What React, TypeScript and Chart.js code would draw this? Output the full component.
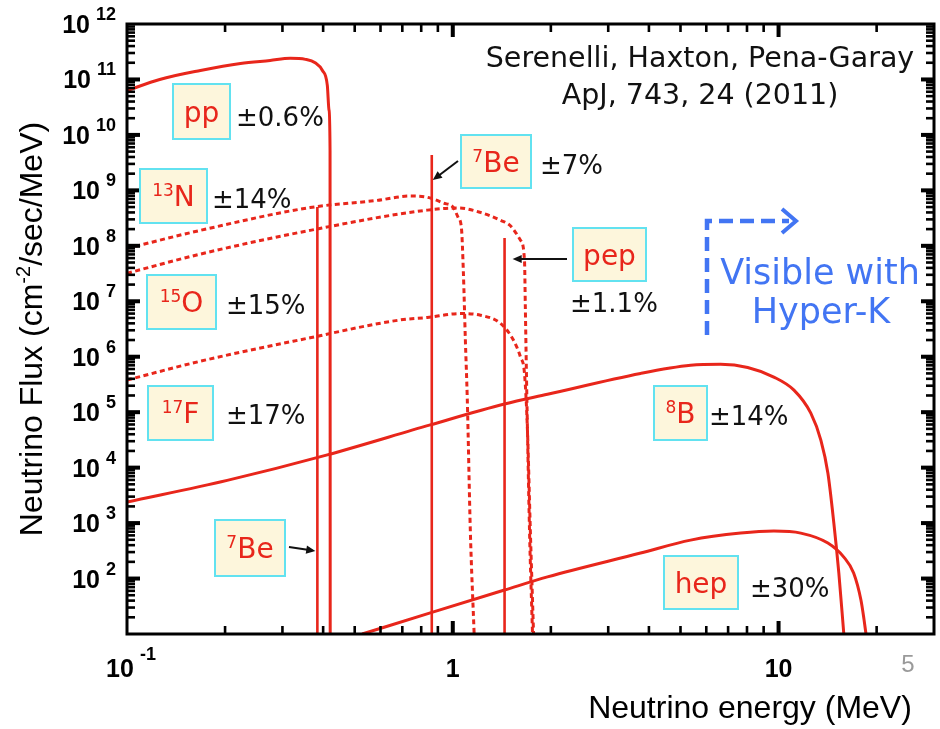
import { useEffect, useRef } from "react";
import { Chart, registerables } from "chart.js";

Chart.register(...registerables);

const RED = "#e8261b";
const BLUE = "#4275f3";
const ARIAL = '"Liberation Sans", Arial, Helvetica, sans-serif';
const DEJAVU = '"DejaVu Sans", "Liberation Sans", sans-serif';

// Continuum spectra: energy (MeV) and flux (cm^-2 s^-1 MeV^-1)
const ppEnergy = [0.1, 0.126, 0.168, 0.223, 0.275, 0.317, 0.353, 0.378, 0.398, 0.412, 0.417, 0.42, 0.4205];
const ppFlux = [6.3e10, 1.0e11, 1.45e11, 1.94e11, 2.2e11, 2.4e11, 2.3e11, 2.0e11, 1.45e11, 7.8e10, 2.8e10, 5.3e9, 10];

const n13Energy = [0.1, 0.168, 0.365, 0.586, 0.74, 0.835, 0.936, 1.004, 1.04, 1.063, 1.078, 1.093, 1.108, 1.132, 1.163];
const n13Flux = [9.0e7, 1.9e8, 4.9e8, 6.6e8, 7.9e8, 7.5e8, 5.9e8, 4.9e8, 3.2e8, 2.1e8, 3.2e7, 2.0e6, 1.7e5, 7.4e2, 10];

const o15Energy = [0.1, 0.168, 0.365, 0.835, 1.04, 1.216, 1.4, 1.503, 1.614, 1.66, 1.67, 1.683, 1.72, 1.757];
const o15Flux = [3.2e7, 7.1e7, 1.9e8, 4.4e8, 4.8e8, 4.0e8, 2.9e8, 2.3e8, 1.26e8, 5.5e7, 7.8e6, 5.0e5, 7.4e2, 10];

const f17Energy = [0.1, 0.168, 0.365, 0.689, 0.835, 1.053, 1.216, 1.4, 1.535, 1.614, 1.66, 1.695, 1.73, 1.77];
const f17Flux = [3.8e5, 8.3e5, 2.2e6, 4.6e6, 5.1e6, 6.0e6, 5.6e6, 4.0e6, 2.0e6, 9.8e5, 5.0e5, 4.8e4, 7.4e2, 10];

const b8Energy = [0.1, 0.203, 0.412, 0.853, 1.441, 1.953, 3.77, 5.37, 6.64, 8.04, 9.67, 11.15, 12.56, 13.49, 14.17, 14.78, 15.31, 15.86];
const b8Flux = [2.4e3, 5.9e3, 1.7e4, 5.9e4, 1.4e5, 2.1e5, 5.0e5, 7.0e5, 7.3e5, 6.4e5, 4.3e5, 2.5e5, 9.6e4, 3.1e4, 8.0e3, 1.0e3, 1.26e2, 10];

const hepEnergy = [0.527, 0.853, 1.441, 1.953, 3.77, 5.37, 7.65, 9.67, 11.7, 14.17, 15.86, 17.0, 17.9, 18.3, 18.55];
const hepFlux = [10, 24, 62, 107, 288, 493, 660, 718, 660, 437, 244, 126, 41, 18, 10];

// Monochromatic lines: energy (MeV) and flux (cm^-2 s^-1)
const lineNames = ["7Be 384 keV", "7Be 862 keV", "pep"];
const lineEnergy = [0.384, 0.862, 1.442];
const lineFlux = [5.0e8, 4.35e9, 1.38e8];

// Axis ranges and labelled ticks
const xMin = 0.1;
const xMax = 30;
const yMin = 10;
const yMax = 1e12;
const xLabelTicks = [0.1, 1, 10];
const yLabelExponents = [2, 3, 4, 5, 6, 7, 8, 9, 10, 11, 12];

// Source labels in cream boxes and their uncertainties
const boxSup = ["", "13", "15", "17", "7", "7", "", "8", ""];
const boxMain = ["pp", "N", "O", "F", "Be", "Be", "pep", "B", "hep"];
const boxRects = [
  [173, 84, 57, 55],
  [140, 169, 67, 54],
  [147, 275, 69, 54],
  [148, 386, 65, 54],
  [215, 520, 70, 56],
  [461, 135, 70, 53],
  [573, 228, 73, 53],
  [654, 386, 53, 54],
  [664, 556, 74, 53],
];
const errText = ["±0.6%", "±14%", "±15%", "±17%", "±7%", "±1.1%", "±14%", "±30%"];
const errPos = [
  [236, 116],
  [212, 198],
  [226, 304],
  [226, 414],
  [540, 164],
  [570, 302],
  [709, 415],
  [750, 587],
];

type Seg = { t: string; size: number; weight?: number; raise?: number; gap?: number };

function drawSegs(
  ctx: CanvasRenderingContext2D,
  segs: Seg[],
  x: number,
  base: number,
  align: "left" | "center" | "right",
  family: string,
  color: string
) {
  const fonts = segs.map((s) => `${s.weight ?? 400} ${s.size}px ${family}`);
  const widths = segs.map((s, i) => {
    ctx.font = fonts[i];
    return ctx.measureText(s.t).width + (s.gap ?? 0);
  });
  const total = widths.reduce((a, b) => a + b, 0);
  let cx = align === "left" ? x : align === "right" ? x - total : x - total / 2;
  ctx.fillStyle = color;
  ctx.textAlign = "left";
  ctx.textBaseline = "alphabetic";
  segs.forEach((s, i) => {
    ctx.font = fonts[i];
    const g = s.gap ?? 0;
    ctx.fillText(s.t, cx + g, base - (s.raise ?? 0));
    cx += widths[i];
  });
}

function arrow(
  ctx: CanvasRenderingContext2D,
  x1: number,
  y1: number,
  x2: number,
  y2: number,
  width: number,
  head: number
) {
  const ang = Math.atan2(y2 - y1, x2 - x1);
  ctx.strokeStyle = "#111";
  ctx.fillStyle = "#111";
  ctx.lineWidth = width;
  ctx.beginPath();
  ctx.moveTo(x1, y1);
  ctx.lineTo(x2 - Math.cos(ang) * head * 0.8, y2 - Math.sin(ang) * head * 0.8);
  ctx.stroke();
  ctx.beginPath();
  ctx.moveTo(x2, y2);
  ctx.lineTo(x2 - head * Math.cos(ang - 0.42), y2 - head * Math.sin(ang - 0.42));
  ctx.lineTo(x2 - head * Math.cos(ang + 0.42), y2 - head * Math.sin(ang + 0.42));
  ctx.closePath();
  ctx.fill();
}

const axesPlugin = {
  id: "axesFrame",
  afterDatasetsDraw(chart: any) {
    const ctx: CanvasRenderingContext2D = chart.ctx;
    const a = chart.chartArea;
    const xs = chart.scales.x;
    const ys = chart.scales.y;
    ctx.save();
    ctx.setLineDash([]);
    ctx.fillStyle = "#000";

    // inward ticks on all four sides
    const tickX = (v: number, len: number, w: number) => {
      const p = xs.getPixelForValue(v);
      if (p <= a.left + 1 || p >= a.right - 1) return;
      ctx.fillRect(p - w / 2, a.bottom - len, w, len);
      ctx.fillRect(p - w / 2, a.top, w, len);
    };
    const tickY = (v: number, len: number, w: number) => {
      const p = ys.getPixelForValue(v);
      if (p <= a.top + 1 || p >= a.bottom - 1) return;
      ctx.fillRect(a.left, p - w / 2, len, w);
      ctx.fillRect(a.right - len, p - w / 2, len, w);
    };
    for (let d = -1; d <= 1; d++) {
      tickX(Math.pow(10, d), 13, 4);
      for (let m = 2; m <= 9; m++) {
        const v = m * Math.pow(10, d);
        if (v < xMax) tickX(v, 8, 2.6);
      }
    }
    for (let d = 1; d <= 11; d++) {
      tickY(Math.pow(10, d), 13, 4);
      for (let m = 2; m <= 9; m++) tickY(m * Math.pow(10, d), 8, 2.6);
    }
    ctx.strokeStyle = "#000";
    ctx.lineWidth = 3;
    ctx.strokeRect(a.left, a.top, a.right - a.left, a.bottom - a.top);

    // y tick labels 10^n
    yLabelExponents.forEach((k) => {
      const p = ys.getPixelForValue(Math.pow(10, k));
      drawSegs(
        ctx,
        [
          { t: "10", size: 25, weight: 700 },
          { t: String(k), size: 18, weight: 700, raise: 13, gap: 6 },
        ],
        116,
        p + 9,
        "right",
        ARIAL,
        "#000"
      );
    });
    // x tick labels
    xLabelTicks.forEach((v) => {
      const p = xs.getPixelForValue(v);
      const segs: Seg[] =
        v < 1
          ? [
              { t: "10", size: 25, weight: 700 },
              { t: "-1", size: 18, weight: 700, raise: 17, gap: 6 },
            ]
          : [{ t: String(v), size: 25, weight: 700 }];
      drawSegs(ctx, segs, v < 1 ? p + 4 : p, 677, "center", ARIAL, "#000");
    });

    // axis titles
    drawSegs(ctx, [{ t: "Neutrino energy (MeV)", size: 32 }], 750, 718, "center", ARIAL, "#000");
    ctx.save();
    ctx.translate(30, 329);
    ctx.rotate(-Math.PI / 2);
    drawSegs(
      ctx,
      [
        { t: "Neutrino Flux (cm", size: 32 },
        { t: "-2", size: 20, raise: 12 },
        { t: "/sec/MeV)", size: 32 },
      ],
      0,
      11.5,
      "center",
      ARIAL,
      "#000"
    );
    ctx.restore();
    ctx.restore();
  },
};

const notesPlugin = {
  id: "notes",
  afterDraw(chart: any) {
    const ctx: CanvasRenderingContext2D = chart.ctx;
    const xs = chart.scales.x;
    ctx.save();
    ctx.setLineDash([]);

    // boxed source names
    boxRects.forEach(([l, t, w, h], i) => {
      ctx.fillStyle = "#fdf6dc";
      ctx.fillRect(l, t, w, h);
      ctx.strokeStyle = "#62e2f0";
      ctx.lineWidth = 2;
      ctx.strokeRect(l, t, w, h);
      const segs: Seg[] = [];
      if (boxSup[i]) segs.push({ t: boxSup[i], size: 17, raise: 10 });
      segs.push({ t: boxMain[i], size: 28 });
      drawSegs(ctx, segs, l + w / 2, t + h / 2 + 10, "center", DEJAVU, RED);
    });

    // uncertainties
    errText.forEach((s, i) => {
      const [x, y] = errPos[i];
      drawSegs(ctx, [{ t: s, size: 26 }], x, y + 9.5, "left", DEJAVU, "#111");
    });

    // arrows pointing at the monochromatic lines
    const be384 = xs.getPixelForValue(lineEnergy[0]);
    const be862 = xs.getPixelForValue(lineEnergy[1]);
    const pep = xs.getPixelForValue(lineEnergy[2]);
    arrow(ctx, 289, 547, be384 - 2, 551, 2, 10);
    arrow(ctx, 458, 161, be862 + 1, 180, 2, 10);
    arrow(ctx, 567, 259, pep + 8, 259, 2, 10);

    // reference
    drawSegs(ctx, [{ t: "Serenelli, Haxton, Pena-Garay", size: 28.5 }], 700, 67, "center", DEJAVU, "#111");
    drawSegs(ctx, [{ t: "ApJ, 743, 24 (2011)", size: 28.5 }], 700, 104, "center", DEJAVU, "#111");

    // Hyper-K visibility marker
    ctx.strokeStyle = BLUE;
    ctx.lineWidth = 4.5;
    ctx.setLineDash([14, 7]);
    ctx.beginPath();
    ctx.moveTo(707, 335);
    ctx.lineTo(707, 221);
    ctx.lineTo(789, 221);
    ctx.stroke();
    ctx.setLineDash([]);
    ctx.lineWidth = 4;
    ctx.lineJoin = "miter";
    ctx.beginPath();
    ctx.moveTo(782, 209);
    ctx.lineTo(796, 221);
    ctx.lineTo(782, 233);
    ctx.stroke();
    drawSegs(ctx, [{ t: "Visible with", size: 35 }], 820, 284, "center", DEJAVU, BLUE);
    drawSegs(ctx, [{ t: "Hyper-K", size: 35 }], 821, 323, "center", DEJAVU, BLUE);

    // page number
    drawSegs(ctx, [{ t: "5", size: 24 }], 908, 672, "center", ARIAL, "#9a9a9a");
    ctx.restore();
  },
};

function series(label: string, energy: number[], flux: number[], dashed: boolean) {
  return {
    label,
    data: energy.map((x, i) => ({ x, y: flux[i] })),
    borderColor: RED,
    borderWidth: 3,
    borderDash: dashed ? [5, 3.5] : [],
    pointRadius: 0,
    fill: false,
    cubicInterpolationMode: "monotone" as const,
  };
}

function lineSeries(i: number) {
  return {
    label: lineNames[i],
    data: [
      { x: lineEnergy[i], y: yMin },
      { x: lineEnergy[i], y: lineFlux[i] },
    ],
    borderColor: RED,
    borderWidth: 2.6,
    pointRadius: 0,
    fill: false,
    tension: 0,
  };
}

export default function App() {
  const ref = useRef<HTMLCanvasElement>(null);

  useEffect(() => {
    if (!ref.current) return;
    const chart = new Chart(ref.current, {
      type: "line",
      data: {
        datasets: [
          series("pp", ppEnergy, ppFlux, false),
          series("13N", n13Energy, n13Flux, true),
          series("15O", o15Energy, o15Flux, true),
          series("17F", f17Energy, f17Flux, true),
          series("8B", b8Energy, b8Flux, false),
          series("hep", hepEnergy, hepFlux, false),
          lineSeries(0),
          lineSeries(1),
          lineSeries(2),
        ] as any,
      },
      options: {
        responsive: false,
        animation: false,
        events: [],
        layout: { padding: { left: 127, top: 24, right: 6, bottom: 95 } },
        scales: {
          x: { type: "logarithmic", min: xMin, max: xMax, display: false },
          y: { type: "logarithmic", min: yMin, max: yMax, display: false },
        },
        plugins: { legend: { display: false }, tooltip: { enabled: false } },
      },
      plugins: [axesPlugin, notesPlugin],
    });
    return () => chart.destroy();
  }, []);

  return (
    <div style={{ position: "absolute", left: 0, top: 0, width: 940, height: 729, background: "#fff" }}>
      <canvas ref={ref} width={940} height={729} style={{ display: "block", width: 940, height: 729 }} />
    </div>
  );
}
